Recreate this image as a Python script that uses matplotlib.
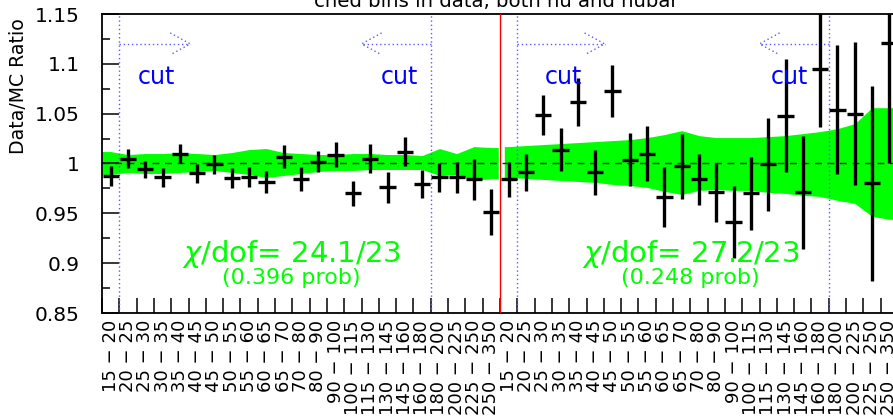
import numpy as np
import matplotlib
matplotlib.use("Agg")
import matplotlib.pyplot as plt
from matplotlib.ticker import NullFormatter

# pT bins (same for both halves: nu | nubar)
bins = ["15-20", "20-25", "25-30", "30-35", "35-40", "40-45", "45-50", "50-55",
        "55-60", "60-65", "65-70", "70-80", "80-90", "90-100", "100-115", "115-130",
        "130-145", "145-160", "160-180", "180-200", "200-225", "225-250", "250-350"]

ratio_nu = [0.987, 1.005, 0.994, 0.986, 1.010, 0.990, 0.999, 0.985, 0.986, 0.981, 1.007, 0.984,
            1.002, 1.009, 0.970, 1.005, 0.976, 1.012, 0.979, 0.986, 0.986, 0.984, 0.951]
err_nu = [0.010, 0.0095, 0.009, 0.0095, 0.010, 0.0095, 0.010, 0.010, 0.010, 0.011, 0.012, 0.012,
          0.011, 0.0125, 0.0125, 0.0145, 0.0155, 0.015, 0.014, 0.015, 0.016, 0.021, 0.023]

ratio_nubar = [0.984, 0.991, 1.049, 1.014, 1.062, 0.991, 1.073, 1.004, 1.010, 0.966, 0.997, 0.984,
               0.971, 0.941, 0.970, 0.999, 1.048, 0.971, 1.095, 1.054, 1.050, 0.980, 1.121]
err_nubar = [0.018, 0.019, 0.020, 0.022, 0.024, 0.023, 0.026, 0.027, 0.028, 0.030, 0.033, 0.026,
             0.030, 0.036, 0.037, 0.047, 0.057, 0.057, 0.058, 0.065, 0.072, 0.098, 0.120]

# MC systematic band
band_hi_nu = [1.012, 1.009, 1.010, 1.010, 1.011, 1.010, 1.009, 1.011, 1.014, 1.015, 1.011, 1.010,
              1.009, 1.009, 1.010, 1.010, 1.009, 1.009, 1.008, 1.015, 1.010, 1.017, 1.016]
band_lo_nu = [0.989, 0.991, 0.990, 0.990, 0.991, 0.992, 0.993, 0.991, 0.989, 0.986, 0.988, 0.990,
              0.992, 0.993, 0.993, 0.994, 0.994, 0.994, 0.994, 0.988, 0.989, 0.983, 0.985]
band_hi_nubar = [1.017, 1.018, 1.019, 1.020, 1.021, 1.022, 1.023, 1.024, 1.026, 1.029, 1.033, 1.028,
                 1.026, 1.026, 1.026, 1.027, 1.028, 1.030, 1.032, 1.035, 1.040, 1.056, 1.056]
band_lo_nubar = [0.986, 0.985, 0.984, 0.983, 0.982, 0.981, 0.979, 0.978, 0.976, 0.972, 0.969, 0.973,
                 0.974, 0.973, 0.973, 0.971, 0.970, 0.968, 0.967, 0.963, 0.960, 0.947, 0.944]

chi2_text = ["$\\chi$/dof= 24.1/23", "$\\chi$/dof= 27.2/23"]
prob_text = ["(0.396 prob)", "(0.248 prob)"]

GREEN = "#00ff00"
CUTBLUE = "#5a5aff"

fig = plt.figure(figsize=(8.93, 4.19), dpi=100)
# axes runs a little past the right edge of the canvas, like the original
ax = fig.add_axes([102 / 893, 106 / 419, 796 / 893, 299 / 419])

n = len(bins)
xl = np.arange(n) + 0.5
xr = xl + n


def draw_band(x, lo, hi, x0, x1):
    xs = np.r_[x0, x, x1]
    ax.fill_between(xs, np.r_[lo[0], lo, lo[-1]], np.r_[hi[0], hi, hi[-1]],
                    color=GREEN, lw=0, zorder=1)


draw_band(xl, band_lo_nu, band_hi_nu, 0, 22.9)
draw_band(xr, band_lo_nubar, band_hi_nubar, 23.25, 46)

ax.axhline(1.0, color="#222222", ls=(0, (5, 4)), lw=1, zorder=2)

for x, y, e in [(xl, ratio_nu, err_nu), (xr, ratio_nubar, err_nubar)]:
    ax.errorbar(x, y, yerr=e, xerr=0.47, fmt="none", ecolor="black",
                elinewidth=2.4, capsize=0, zorder=3)

ax.axvline(n, color="red", lw=1, zorder=4)

# cut lines with dotted arrows
for xc in [1, 19, n + 1, n + 19]:
    ax.axvline(xc, color=CUTBLUE, ls=(0, (1, 2)), lw=1, zorder=2)


def cut_arrow(x0, length, d):
    tip = x0 + d * length
    kw = dict(color=CUTBLUE, ls=(0, (1, 2)), lw=1, zorder=2)
    ax.plot([x0, tip], [1.12, 1.12], **kw)
    ax.plot([tip - d * 1.16, tip, tip - d * 1.16], [1.131, 1.12, 1.109], **kw)


cut_arrow(1, 4.1, 1)
cut_arrow(19, 4.0, -1)
cut_arrow(n + 1, 5.05, 1)
cut_arrow(n + 19, 4.0, -1)

cut_kw = dict(color="blue", fontsize=17, va="baseline")
ax.text(2.08, 1.0797, "cut", ha="left", **cut_kw)
ax.text(18.27, 1.0797, "cut", ha="right", **cut_kw)
ax.text(25.57, 1.0797, "cut", ha="left", **cut_kw)
ax.text(40.83, 1.0797, "cut", ha="right", **cut_kw)

for xc, c2, pr in zip([10.95, 34.0], chi2_text, prob_text):
    ax.text(xc, 0.9013, c2, color=GREEN, fontsize=21, ha="center", va="baseline")
    ax.text(xc, 0.879, pr, color=GREEN, fontsize=16, ha="center", va="baseline")

ax.set_xlim(0, 2 * n)
ax.set_ylim(0.85, 1.15)

yt = [0.85, 0.9, 0.95, 1.0, 1.05, 1.1, 1.15]
ax.set_yticks(yt, [f"{v:g}" for v in yt])
ax.set_yticks([0.875, 0.925, 0.975, 1.025, 1.075, 1.125], minor=True)
ax.tick_params(axis="y", which="major", direction="in", length=12.2, width=1.1,
               labelsize=14.5, pad=16)
ax.tick_params(axis="y", which="minor", direction="in", length=6, width=1.1)

ax.set_xticks(np.arange(2 * n + 1))
ax.xaxis.set_major_formatter(NullFormatter())
ax.set_xticks(np.r_[xl, xr], [b.replace("-", " \u2212 ") for b in bins] * 2, minor=True)
ax.tick_params(axis="x", which="major", direction="in", length=11, width=1.1)
ax.tick_params(axis="x", which="minor", length=0, labelsize=13, labelrotation=90, pad=5)

for s in ax.spines.values():
    s.set_linewidth(1.3)

fig.text(19 / 893, 1 - 18 / 419, "Data/MC Ratio", rotation=90, ha="center", va="top",
         fontsize=13.6)
fig.text(496 / 893, 1 - 7 / 419, "ched bins in data, both nu and nubar", ha="center",
         va="baseline", fontsize=14.2)

fig.savefig("out.png", dpi=100)
